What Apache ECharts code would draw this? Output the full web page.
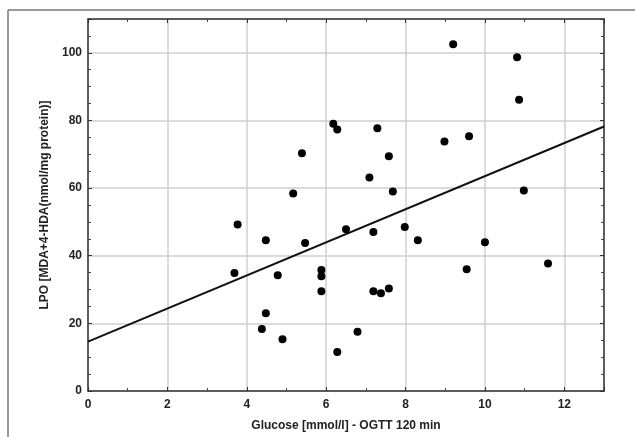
<!DOCTYPE html>
<html>
<head>
<meta charset="utf-8">
<script src="https://cdn.jsdelivr.net/npm/echarts@6/dist/echarts.min.js"></script>
<style>
  html, body { margin: 0; padding: 0; background: #fff; }
  #chart { width: 635px; height: 437px; }
</style>
</head>
<body>
<div id="chart"></div>
<script>
// glucose (mmol/l) of each subject
var glucose = [3.69, 3.77, 4.38, 4.48, 4.48, 4.78, 4.90, 5.17, 5.39, 5.47,
  5.88, 5.88, 5.88, 6.18, 6.28, 6.28, 6.50, 6.79, 7.09, 7.19,
  7.19, 7.29, 7.38, 7.58, 7.58, 7.68, 7.98, 8.31, 8.98, 9.20,
  9.54, 9.60, 10.0, 10.81, 10.86, 10.98, 11.59];
// LPO of each subject
var lpo = [34.9, 49.2, 18.3, 23.0, 44.6, 34.2, 15.3, 58.4, 70.3, 43.8,
  35.8, 33.9, 29.5, 79.0, 77.3, 11.5, 47.8, 17.5, 63.1, 47.0,
  29.5, 77.7, 28.9, 69.4, 30.3, 59.0, 48.5, 44.6, 73.8, 102.5,
  36.0, 75.3, 44.0, 98.7, 86.1, 59.3, 37.7];
// regression line end points
var fitX = [0, 13];
var fitY = [14.6, 78.2];

var xTicks = { min: 0, max: 13, interval: 2, minor: 2 };
var yTicks = { min: 0, max: 110, interval: 20, minor: 4 };

var points = glucose.map(function (g, i) { return [g, lpo[i]]; });
var fitLine = fitX.map(function (x, i) { return [x, fitY[i]]; });

var font = { fontFamily: "Liberation Sans", fontWeight: "bold", fontSize: 12, color: "#222" };

function axis(ticks, opts) {
  return Object.assign({
    type: "value",
    min: ticks.min,
    max: ticks.max,
    interval: ticks.interval,
    axisLine: { show: true, onZero: false, lineStyle: { color: "#333", width: 1.5 } },
    axisTick: { show: true, inside: true, length: 4, lineStyle: { color: "#333" } },
    minorTick: { show: true, splitNumber: ticks.minor, length: 3, lineStyle: { color: "#444" } },
    splitLine: { show: false },
    axisLabel: { show: false }
  }, opts);
}

var chart = echarts.init(document.getElementById("chart"));
chart.setOption({
  animation: false,
  backgroundColor: "#fff",
  grid: { left: 88, top: 19, right: 31, bottom: 45 },
  graphic: [
    { type: "line", shape: { x1: 8, y1: 10, x2: 635, y2: 10 }, style: { stroke: "#777", lineWidth: 1.5 } },
    { type: "line", shape: { x1: 8, y1: 10, x2: 8, y2: 437 }, style: { stroke: "#777", lineWidth: 1.5 } }
  ],
  xAxis: [
    axis(xTicks, {
      position: "bottom",
      name: "Glucose [mmol/l] - OGTT 120 min",
      nameLocation: "middle",
      nameGap: 29,
      nameTextStyle: font,
      splitLine: { show: true, lineStyle: { color: "#cfcfcf", width: 1.5 } },
      axisLabel: Object.assign({ show: true, margin: 8, showMaxLabel: false }, font)
    }),
    axis(xTicks, { position: "top" })
  ],
  yAxis: [
    axis(yTicks, {
      position: "left",
      name: "LPO [MDA+4-HDA(nmol/mg protein)]",
      nameLocation: "middle",
      nameGap: 35,
      nameTextStyle: font,
      splitLine: { show: true, lineStyle: { color: "#cfcfcf", width: 1.5 } },
      axisLabel: Object.assign({ show: true, margin: 6, showMaxLabel: false }, font)
    }),
    axis(yTicks, { position: "right" })
  ],
  series: [
    {
      type: "line",
      data: fitLine,
      showSymbol: false,
      lineStyle: { color: "#111", width: 2 },
      z: 3
    },
    {
      type: "scatter",
      data: points,
      symbolSize: 8,
      itemStyle: { color: "#000", opacity: 1 },
      z: 4
    }
  ]
});
</script>
</body>
</html>
